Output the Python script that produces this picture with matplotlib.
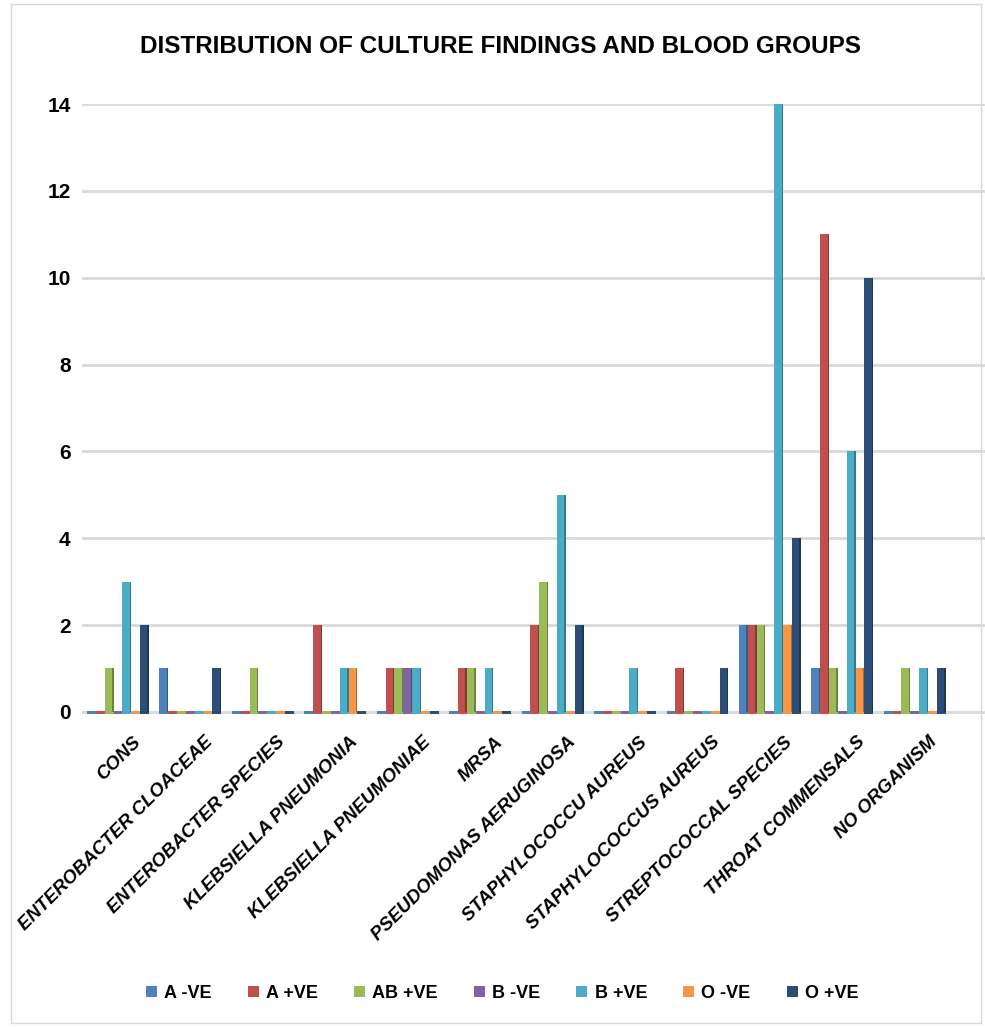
import numpy as np
import matplotlib
matplotlib.use("Agg")
import matplotlib.pyplot as plt
import matplotlib.transforms as mtransforms
from matplotlib.colors import to_rgb
from matplotlib.patches import Rectangle

# chart data
organisms = ["CONS", "ENTEROBACTER CLOACEAE", "ENTEROBACTER SPECIES",
             "KLEBSIELLA PNEUMONIA", "KLEBSIELLA PNEUMONIAE", "MRSA",
             "PSEUDOMONAS AERUGINOSA", "STAPHYLOCOCCU AUREUS",
             "STAPHYLOCOCCUS AUREUS", "STREPTOCOCCAL SPECIES",
             "THROAT COMMENSALS", "NO ORGANISM"]
groups = ["A -VE", "A +VE", "AB +VE", "B -VE", "B +VE", "O -VE", "O +VE"]

a_neg = [0, 1, 0, 0, 0, 0, 0, 0, 0, 2, 1, 0]
a_pos = [0, 0, 0, 2, 1, 1, 2, 0, 1, 2, 11, 0]
ab_pos = [1, 0, 1, 0, 1, 1, 3, 0, 0, 2, 1, 1]
b_neg = [0, 0, 0, 0, 1, 0, 0, 0, 0, 0, 0, 0]
b_pos = [3, 0, 0, 1, 1, 1, 5, 1, 0, 14, 6, 1]
o_neg = [0, 0, 0, 1, 0, 0, 0, 0, 0, 2, 1, 0]
o_pos = [2, 1, 0, 0, 0, 0, 2, 0, 1, 4, 10, 1]
series = [a_neg, a_pos, ab_pos, b_neg, b_pos, o_neg, o_pos]

colors = ["#4F81BD", "#C0504D", "#9BBB59", "#8064A2", "#4BACC6", "#F79646", "#2C4D75"]

plt.rcParams['font.family'] = ['Liberation Sans', 'DejaVu Sans']

fig = plt.figure(figsize=(9.85, 10.27), dpi=100)
ax = fig.add_axes([0.083, 0.3047, 0.917, 0.594])

x = np.arange(len(organisms))
w = 0.122
n = len(groups)

for i, (vals, c) in enumerate(zip(series, colors)):
    pos = x + (i - (n - 1) / 2) * w
    vals = np.array(vals, dtype=float)
    dark = tuple(v * 0.7 for v in to_rgb(c))
    # floor slab so zero values still show
    ax.bar(pos, 0.07, bottom=-0.05, width=w, color=c, zorder=3)
    ax.bar(pos, vals, width=w, color=c, zorder=3, label=groups[i])
    # darker side face for a 3d look
    ax.bar(pos + w * 0.42, vals, width=w * 0.16, color=dark, zorder=4)

ax.set_xlim(-0.5, 11.97)
ax.set_ylim(-0.05, 14)
ax.set_yticks(range(0, 15, 2))
ax.grid(axis='y', color='#d9d9d9', linewidth=2, zorder=0)
ax.set_axisbelow(True)
for s in ax.spines.values():
    s.set_visible(False)
ax.tick_params(axis='y', length=0, pad=8, labelsize=15)
for t in ax.get_yticklabels():
    t.set_fontweight('bold')

ax.set_xticks(x)
ax.set_xticklabels(organisms, rotation=45, ha='right', rotation_mode='anchor',
                   fontsize=13.5, fontweight='bold', fontstyle='italic')
ax.tick_params(axis='x', length=0, pad=14)
shift = mtransforms.ScaledTranslation(14 / 100, 0, fig.dpi_scale_trans)
for t in ax.get_xticklabels():
    t.set_transform(t.get_transform() + shift)

fig.text(0.508, 0.955, "DISTRIBUTION OF CULTURE FINDINGS AND BLOOD GROUPS",
         ha='center', va='center', fontsize=17.5, fontweight='bold')

leg = fig.legend(loc='center', bbox_to_anchor=(0.51, 0.033), ncol=7, frameon=False,
                 prop={'weight': 'bold', 'size': 13}, handlelength=0.6,
                 handleheight=0.6, handletextpad=0.4, columnspacing=2.0)

fig.patches.append(Rectangle((0.011, 0.004), 0.985, 0.992, transform=fig.transFigure,
                             fill=False, edgecolor='#d9d9d9', linewidth=1))

fig.savefig("out.png", dpi=100)
